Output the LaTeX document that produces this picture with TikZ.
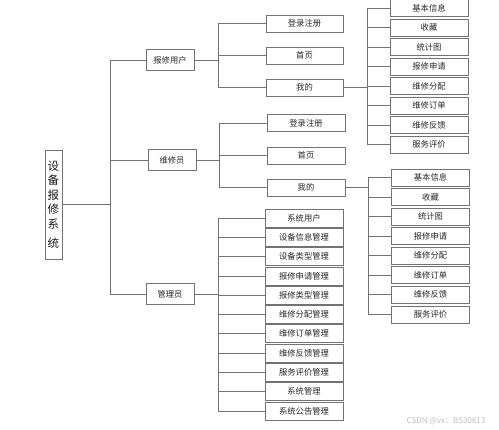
\documentclass[tikz,border=0pt]{standalone}
\usepackage{fontspec}
\newfontfamily\cjk{Noto Sans CJK SC}
\begin{document}
\begin{tikzpicture}[x=1pt,y=-1pt,
  ln/.style={draw=black!55, line width=0.6pt},
  box/.style={draw=black!55, line width=0.6pt, fill=white, inner sep=0pt,
    minimum width=78pt, minimum height=17pt, text=black!85,
    font=\cjk\fontsize{8.3}{9}\selectfont},
  lone/.style={box, minimum width=48pt, minimum height=21pt},
  rootbox/.style={draw=black!55, line width=0.6pt, fill=white, inner sep=0pt,
    minimum width=17pt, minimum height=109pt, align=center, text=black!90,
    font=\cjk\fontsize{11.5}{14.5}\selectfont}]
\useasboundingbox (0,0) rectangle (499,430);

% root
\node[rootbox] (root) at (53.5,204.5) {设\\备\\报\\修\\系\\[5pt]统};

% trunk
\coordinate (tr) at (110,204.5);
\node[lone] (u) at (170,60) {报修用户};
\node[lone] (w) at (172,160) {维修员};
\node[lone] (m) at (170,294) {管理员};
\draw[ln] (root.east) -- (tr);
\draw[ln] (u.west -| tr) -- (m.west -| tr);
\foreach \n in {u,w,m} \draw[ln] (\n.west -| tr) -- (\n.west);

% group 1 (报修用户)
\coordinate (b1) at (218,0);
\node[box,minimum width=77pt] (a1) at (304.5,23.5) {登录注册};
\node[box,minimum width=77pt] (a2) at (304.5,55.5) {首页};
\node[box,minimum width=77pt] (a3) at (304.5,87.5) {我的};
\draw[ln] (a1.west -| b1) -- (a3.west -| b1);
\draw[ln] (u.east) -- (u.east -| b1);
\foreach \n in {a1,a2,a3} \draw[ln] (\n.west -| b1) -- (\n.west);

% group 2 (维修员)
\coordinate (b2) at (219,0);
\node[box] (e1) at (306,123) {登录注册};
\node[box] (e2) at (306,155.5) {首页};
\node[box] (e3) at (306,187.5) {我的};
\draw[ln] (e1.west -| b2) -- (e3.west -| b2);
\draw[ln] (w.east) -- (w.east -| b2);
\foreach \n in {e1,e2,e3} \draw[ln] (\n.west -| b2) -- (\n.west);

% group 3 (管理员)
\coordinate (b3) at (218,0);
\foreach \t [count=\i from 0] in {系统用户,设备信息管理,设备类型管理,报修申请管理,报修类型管理,维修分配管理,维修订单管理,维修反馈管理,服务评价管理,系统管理,系统公告管理}
  \node[box,minimum height=18pt] (g\i) at (304,218+19.3*\i) {\t};
\draw[ln] (g0.west -| b3) -- (g10.west -| b3);
\draw[ln] (m.east) -- (m.east -| b3);
\foreach \i in {0,...,10} \draw[ln] (g\i.west -| b3) -- (g\i.west);

% right group A
\coordinate (bA) at (367,0);
\foreach \t [count=\i from 0] in {基本信息,收藏,统计图,报修申请,维修分配,维修订单,维修反馈,服务评价}
  \node[box] (p\i) at (429,8+19.5*\i) {\t};
\draw[ln] (p0.west -| bA) -- (p7.west -| bA);
\draw[ln] (a3.east) -- (a3.east -| bA);
\foreach \i in {0,...,7} \draw[ln] (p\i.west -| bA) -- (p\i.west);

% right group B
\coordinate (bB) at (368,0);
\foreach \t [count=\i from 0] in {基本信息,收藏,统计图,报修申请,维修分配,维修订单,维修反馈,服务评价}
  \node[box] (q\i) at (430.5,177.5+19.55*\i) {\t};
\draw[ln] (q0.west -| bB) -- (q7.west -| bB);
\draw[ln] (e3.east) -- (e3.east -| bB);
\foreach \i in {0,...,7} \draw[ln] (q\i.west -| bB) -- (q\i.west);

% watermark
\node[text=black!25, font=\cjk\fontsize{8}{9}\selectfont, inner sep=0pt] (wm) at (446,421) {CSDN @vx：BS30813};
\end{tikzpicture}
\end{document}
